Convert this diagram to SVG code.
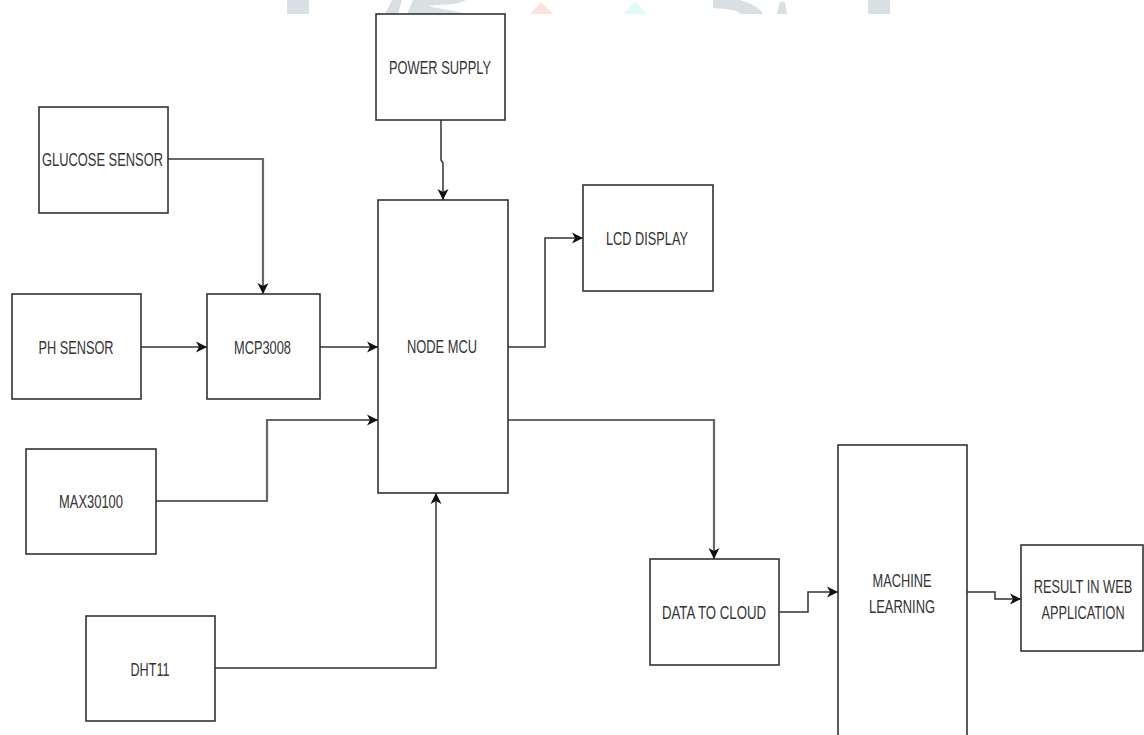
<svg xmlns="http://www.w3.org/2000/svg" width="1144" height="735" viewBox="0 0 1144 735">
<style>
.box{fill:#fff;stroke:#333;stroke-width:1.6}
.lbl{font-family:"Liberation Sans",Arial,sans-serif;font-size:19px;fill:#333;text-anchor:middle}
.wire{fill:none;stroke:#333;stroke-width:1.5}
.wire.g{stroke:#666;stroke-width:2.2}
.wm{stroke:none}
</style>
<defs>
<marker id="arr" markerUnits="userSpaceOnUse" markerWidth="13" markerHeight="12" refX="11" refY="6" orient="auto">
<path d="M0,0.5 L11,6 L0,11.5 L3,6 z" fill="#111"/>
</marker>
</defs>
<rect width="1144" height="735" fill="#fff"/>
<g id="watermark">
<rect class="wm" x="287" y="0" width="22" height="14" fill="#d9e0e4"/>
<polygon class="wm" points="385,14 398,14 402,0 392,0" fill="#d9e0e4"/>
<path class="wm" d="M407,14 L413,0 L466,0 C455,6 440,4 428,6 C440,9 452,10 466,14 Z" fill="#d9e0e4"/>
<polygon class="wm" points="530,14 553,14 541,2" fill="#fde2e0"/>
<polygon class="wm" points="623,14 647,14 635,2" fill="#defbfc"/>
<path class="wm" d="M713,0 L740,0 C752,4 760,8 763,14 L740,14 C738,10 728,9 713,8 Z" fill="#d9e0e4"/>
<polygon class="wm" points="777,14 787,14 785,2 780,2" fill="#d9e0e4"/>
<rect class="wm" x="868" y="0" width="22" height="14" fill="#d9e0e4"/>
</g>
<g id="connectors">
<path class="wire g" d="M168,159 H263 V294" marker-end="url(#arr)"/>
<path class="wire" d="M141,347 H207" marker-end="url(#arr)"/>
<path class="wire" d="M320,347 H378" marker-end="url(#arr)"/>
<path class="wire g" d="M156,501 H267 V420 H378" marker-end="url(#arr)"/>
<path class="wire" d="M215,668 H436 V493" marker-end="url(#arr)"/>
<path class="wire" d="M441,120 V160 L443,163 V200" marker-end="url(#arr)"/>
<path class="wire" d="M508,347 H545 V238 H583" marker-end="url(#arr)"/>
<path class="wire g" d="M508,420 H714 V559" marker-end="url(#arr)"/>
<path class="wire" d="M779,612 H808 V592 H838" marker-end="url(#arr)"/>
<path class="wire" d="M967,592 H995 V599 H1021" marker-end="url(#arr)"/>
</g>
<g id="power-supply"><rect class="box" x="376" y="14" width="129" height="106"/><text class="lbl" x="440" y="74" textLength="102" lengthAdjust="spacingAndGlyphs">POWER SUPPLY</text></g>
<g id="glucose-sensor"><rect class="box" x="39" y="107" width="129" height="106"/><text class="lbl" x="102.5" y="166" textLength="121" lengthAdjust="spacingAndGlyphs">GLUCOSE SENSOR</text></g>
<g id="ph-sensor"><rect class="box" x="12" y="294" width="129" height="105"/><text class="lbl" x="76" y="354" textLength="75" lengthAdjust="spacingAndGlyphs">PH SENSOR</text></g>
<g id="mcp3008"><rect class="box" x="207" y="294" width="113" height="105"/><text class="lbl" x="262.5" y="354" textLength="57" lengthAdjust="spacingAndGlyphs">MCP3008</text></g>
<g id="node-mcu"><rect class="box" x="378" y="200" width="130" height="293"/><text class="lbl" x="442" y="353" textLength="70" lengthAdjust="spacingAndGlyphs">NODE MCU</text></g>
<g id="lcd-display"><rect class="box" x="583" y="185" width="130" height="106"/><text class="lbl" x="647" y="245" textLength="82" lengthAdjust="spacingAndGlyphs">LCD DISPLAY</text></g>
<g id="max30100"><rect class="box" x="26" y="449" width="130" height="105"/><text class="lbl" x="91" y="508" textLength="64" lengthAdjust="spacingAndGlyphs">MAX30100</text></g>
<g id="dht11"><rect class="box" x="86" y="616" width="129" height="105"/><text class="lbl" x="150" y="676" textLength="39" lengthAdjust="spacingAndGlyphs">DHT11</text></g>
<g id="data-to-cloud"><rect class="box" x="650" y="559" width="129" height="106"/><text class="lbl" x="714" y="619" textLength="104" lengthAdjust="spacingAndGlyphs">DATA TO CLOUD</text></g>
<g id="machine-learning"><rect class="box" x="838" y="445" width="129" height="310"/><text class="lbl" x="902" y="587" textLength="59" lengthAdjust="spacingAndGlyphs">MACHINE</text><text class="lbl" x="902" y="613" textLength="66" lengthAdjust="spacingAndGlyphs">LEARNING</text></g>
<g id="result-web"><rect class="box" x="1021" y="545" width="122" height="106"/><text class="lbl" transform="translate(1083,593) scale(0.676,1)" x="0" y="0">RESULT IN WEB</text><text class="lbl" transform="translate(1083,619) scale(0.67,1)" x="0" y="0">APPLICATION</text></g>
</svg>
